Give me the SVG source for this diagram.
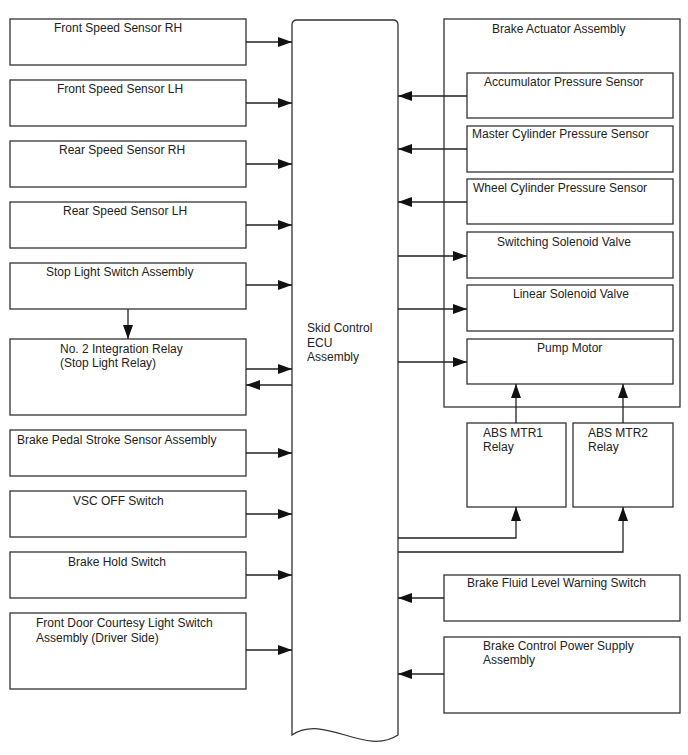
<svg xmlns="http://www.w3.org/2000/svg" width="688" height="755" viewBox="0 0 688 755">
<style>
.box{fill:#fff;stroke:#333;stroke-width:1.3}
.frame{fill:none;stroke:#333;stroke-width:1.3}
.ln{fill:none;stroke:#222;stroke-width:1.3;marker-end:url(#ah)}
text{font-family:"Liberation Sans",Arial,sans-serif;font-size:12px;fill:#222}
</style>
<defs>
<marker id="ah" markerUnits="userSpaceOnUse" markerWidth="14" markerHeight="10" refX="14" refY="5" orient="auto">
<path d="M0,0 L14,5 L0,10 Z" fill="#111"/>
</marker>
</defs>
<rect width="688" height="755" fill="#fff"/>

<g id="ecu">
<path class="box" d="M292,735 L292,25 Q292,20 297,20 L393,20 Q398,20 398,25 L398,735 C365,757 325,713 292,735 Z"/>
<text x="307" y="332">Skid Control</text>
<text x="307" y="347">ECU</text>
<text x="307" y="361">Assembly</text>
</g>

<g id="front-speed-rh"><rect class="box" x="10" y="19" width="236" height="46"/><text x="54" y="32">Front Speed Sensor RH</text></g>
<g id="front-speed-lh"><rect class="box" x="10" y="80" width="236" height="46"/><text x="57" y="93">Front Speed Sensor LH</text></g>
<g id="rear-speed-rh"><rect class="box" x="10" y="141" width="236" height="46"/><text x="59" y="154">Rear Speed Sensor RH</text></g>
<g id="rear-speed-lh"><rect class="box" x="10" y="202" width="236" height="46"/><text x="63" y="215">Rear Speed Sensor LH</text></g>
<g id="stop-light-switch"><rect class="box" x="10" y="263" width="236" height="46"/><text x="46" y="276">Stop Light Switch Assembly</text></g>
<g id="integration-relay"><rect class="box" x="10" y="339" width="236" height="76"/><text x="60" y="353">No. 2 Integration Relay</text><text x="60" y="367">(Stop Light Relay)</text></g>
<g id="pedal-stroke"><rect class="box" x="10" y="430" width="236" height="46"/><text x="17" y="444">Brake Pedal Stroke Sensor Assembly</text></g>
<g id="vsc-off"><rect class="box" x="10" y="491" width="236" height="46"/><text x="73" y="505">VSC OFF Switch</text></g>
<g id="brake-hold"><rect class="box" x="10" y="552" width="236" height="46"/><text x="68" y="566">Brake Hold Switch</text></g>
<g id="door-courtesy"><rect class="box" x="10" y="613" width="236" height="76"/><text x="36" y="627">Front Door Courtesy Light Switch</text><text x="36" y="642">Assembly (Driver Side)</text></g>

<g id="brake-actuator">
<rect class="frame" x="444" y="19" width="236" height="388"/>
<text x="492" y="33">Brake Actuator Assembly</text>
</g>
<g id="accumulator"><rect class="box" x="467" y="73" width="206" height="45"/><text x="484" y="86">Accumulator Pressure Sensor</text></g>
<g id="master-cyl"><rect class="box" x="467" y="126" width="206" height="46"/><text x="472" y="138">Master Cylinder Pressure Sensor</text></g>
<g id="wheel-cyl"><rect class="box" x="467" y="179" width="206" height="45"/><text x="473" y="192">Wheel Cylinder Pressure Sensor</text></g>
<g id="switching-valve"><rect class="box" x="467" y="232" width="206" height="46"/><text x="497" y="246">Switching Solenoid Valve</text></g>
<g id="linear-valve"><rect class="box" x="467" y="285" width="206" height="46"/><text x="513" y="298">Linear Solenoid Valve</text></g>
<g id="pump-motor"><rect class="box" x="467" y="339" width="206" height="45"/><text x="537" y="352">Pump Motor</text></g>
<g id="abs-mtr1"><rect class="box" x="467" y="423" width="99" height="84"/><text x="483" y="437">ABS MTR1</text><text x="483" y="451">Relay</text></g>
<g id="abs-mtr2"><rect class="box" x="573" y="423" width="100" height="84"/><text x="588" y="437">ABS MTR2</text><text x="588" y="451">Relay</text></g>
<g id="fluid-level"><rect class="box" x="444" y="575" width="236" height="46"/><text x="467" y="587">Brake Fluid Level Warning Switch</text></g>
<g id="power-supply"><rect class="box" x="444" y="637" width="236" height="76"/><text x="483" y="650">Brake Control Power Supply</text><text x="483" y="664">Assembly</text></g>

<g id="connectors">
<path class="ln" d="M246,42 H292"/>
<path class="ln" d="M246,103 H292"/>
<path class="ln" d="M246,164 H292"/>
<path class="ln" d="M246,225 H292"/>
<path class="ln" d="M246,285 H292"/>
<path class="ln" d="M128,309 V339"/>
<path class="ln" d="M246,369 H292"/>
<path class="ln" d="M292,385 H246"/>
<path class="ln" d="M246,453 H292"/>
<path class="ln" d="M246,514 H292"/>
<path class="ln" d="M246,575 H292"/>
<path class="ln" d="M246,650 H292"/>
<path class="ln" d="M467,96 H398"/>
<path class="ln" d="M467,149 H398"/>
<path class="ln" d="M467,202 H398"/>
<path class="ln" d="M398,256 H467"/>
<path class="ln" d="M398,309 H467"/>
<path class="ln" d="M398,362 H467"/>
<path class="ln" d="M516,423 V384"/>
<path class="ln" d="M623,423 V384"/>
<path class="ln" d="M398,538 H516 V507"/>
<path class="ln" d="M398,552 H623 V507"/>
<path class="ln" d="M444,598 H398"/>
<path class="ln" d="M444,674 H398"/>
</g>
</svg>
